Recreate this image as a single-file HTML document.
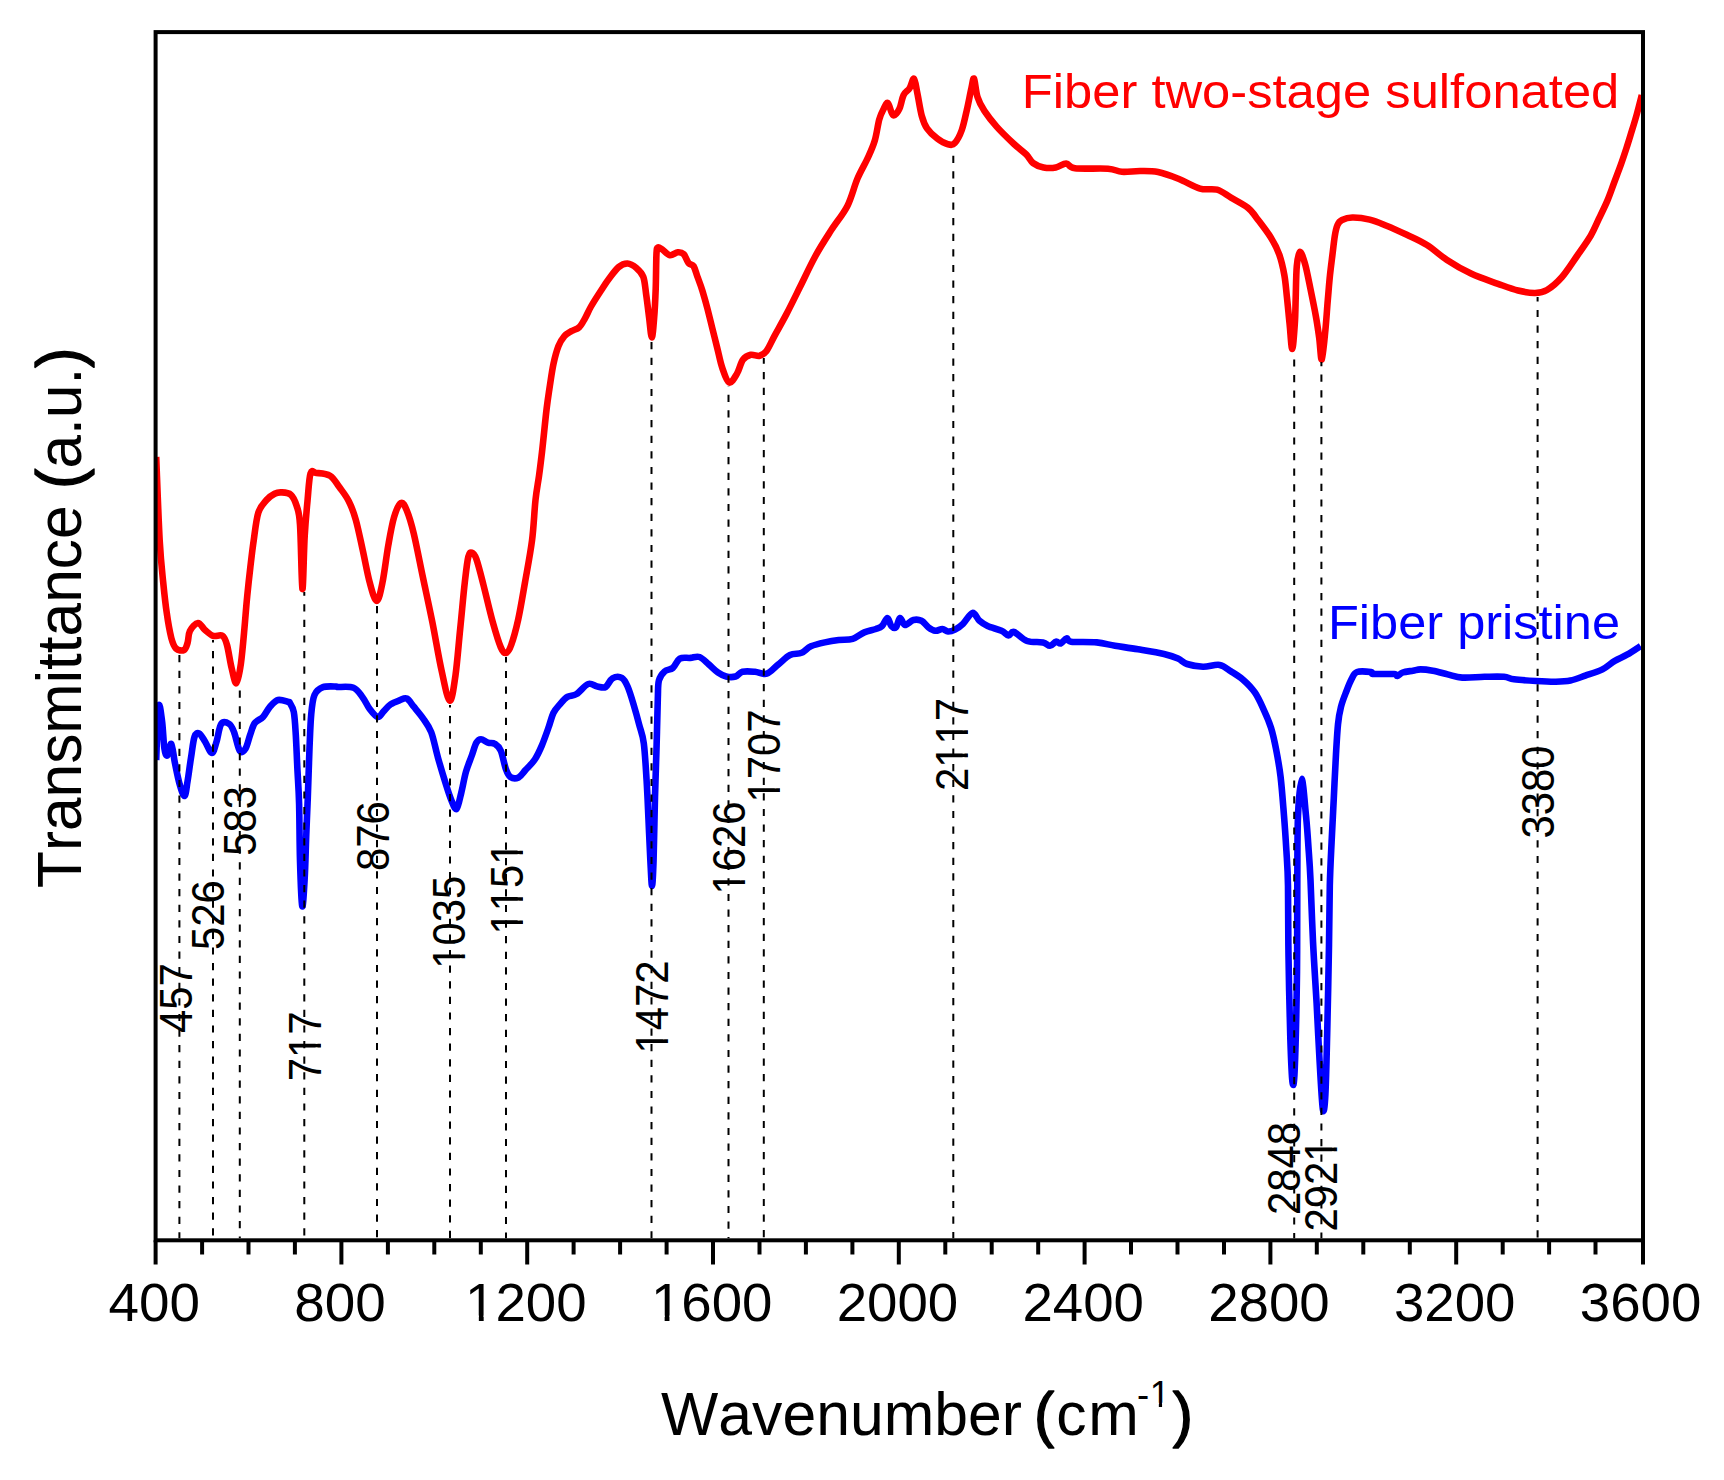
<!DOCTYPE html>
<html lang="en"><head><meta charset="utf-8"><title>FTIR spectra</title>
<style>html,body{margin:0;padding:0;background:#fff;}body{width:1724px;height:1480px;overflow:hidden;}svg{display:block;}text{font-family:"Liberation Sans",Arial,Helvetica,sans-serif;font-kerning:none;}</style></head><body>
<svg width="1724" height="1480" viewBox="0 0 1724 1480">
<rect x="0" y="0" width="1724" height="1480" fill="#ffffff"/>
<defs><clipPath id="plot"><rect x="155.1" y="32.1" width="1487.9" height="1208.2"/></clipPath><clipPath id="c2"><rect x="-10.80" y="-59.40" width="143.10" height="53.73"/><rect x="13.74" y="-6.17" width="4.83" height="7.25"/><rect x="29.84" y="-6.17" width="31.46" height="22.37"/><rect x="60.21" y="-6.17" width="31.46" height="22.37"/><rect x="90.59" y="-6.17" width="31.46" height="22.37"/></clipPath><clipPath id="c3"><rect x="-10.80" y="-59.40" width="143.10" height="53.73"/><rect x="13.74" y="-6.17" width="4.83" height="7.25"/><rect x="29.84" y="-6.17" width="31.46" height="22.37"/><rect x="60.21" y="-6.17" width="31.46" height="22.37"/><rect x="90.59" y="-6.17" width="31.46" height="22.37"/></clipPath><clipPath id="cx"><rect x="-20" y="-80" width="515.09" height="120"/><rect x="515.67" y="-80" width="200" height="120"/><rect x="494.59" y="-80" width="21.58" height="47.62"/><rect x="504.40" y="-32.88" width="3.27" height="5.12"/></clipPath><clipPath id="c5"><rect x="-8.36" y="-45.98" width="86.46" height="41.59"/><rect x="-0.42" y="-4.89" width="24.08" height="17.43"/><rect x="33.76" y="-4.89" width="3.70" height="5.72"/><rect x="46.08" y="-4.89" width="24.08" height="17.43"/></clipPath><clipPath id="c6"><rect x="-8.36" y="-45.98" width="109.71" height="41.59"/><rect x="10.51" y="-4.89" width="3.70" height="5.72"/><rect x="22.83" y="-4.89" width="24.08" height="17.43"/><rect x="46.08" y="-4.89" width="24.08" height="17.43"/><rect x="69.32" y="-4.89" width="24.08" height="17.43"/></clipPath><clipPath id="c7"><rect x="-8.36" y="-45.98" width="109.71" height="41.59"/><rect x="10.51" y="-4.89" width="3.70" height="5.72"/><rect x="33.76" y="-4.89" width="3.70" height="5.72"/><rect x="46.08" y="-4.89" width="24.08" height="17.43"/><rect x="80.25" y="-4.89" width="3.70" height="5.72"/></clipPath><clipPath id="c8"><rect x="-8.36" y="-45.98" width="109.71" height="41.59"/><rect x="10.51" y="-4.89" width="3.70" height="5.72"/><rect x="22.83" y="-4.89" width="24.08" height="17.43"/><rect x="46.08" y="-4.89" width="24.08" height="17.43"/><rect x="69.32" y="-4.89" width="24.08" height="17.43"/></clipPath><clipPath id="c9"><rect x="-8.36" y="-45.98" width="109.71" height="41.59"/><rect x="10.51" y="-4.89" width="3.70" height="5.72"/><rect x="22.83" y="-4.89" width="24.08" height="17.43"/><rect x="46.08" y="-4.89" width="24.08" height="17.43"/><rect x="69.32" y="-4.89" width="24.08" height="17.43"/></clipPath><clipPath id="c10"><rect x="-8.36" y="-45.98" width="109.71" height="41.59"/><rect x="10.51" y="-4.89" width="3.70" height="5.72"/><rect x="22.83" y="-4.89" width="24.08" height="17.43"/><rect x="46.08" y="-4.89" width="24.08" height="17.43"/><rect x="69.32" y="-4.89" width="24.08" height="17.43"/></clipPath><clipPath id="c11"><rect x="-8.36" y="-45.98" width="109.71" height="41.59"/><rect x="-0.42" y="-4.89" width="24.08" height="17.43"/><rect x="33.76" y="-4.89" width="3.70" height="5.72"/><rect x="57.01" y="-4.89" width="3.70" height="5.72"/><rect x="69.32" y="-4.89" width="24.08" height="17.43"/></clipPath><clipPath id="c12"><rect x="-8.36" y="-45.98" width="109.71" height="41.59"/><rect x="-0.42" y="-4.89" width="24.08" height="17.43"/><rect x="22.83" y="-4.89" width="24.08" height="17.43"/><rect x="46.08" y="-4.89" width="24.08" height="17.43"/><rect x="80.25" y="-4.89" width="3.70" height="5.72"/></clipPath></defs>
<g clip-path="url(#plot)">
<path d="M156.2 457.0C156.8 470.9 158.5 519.7 159.7 540.6C160.9 561.5 162.0 570.4 163.2 582.4C164.4 594.4 165.3 603.3 166.7 612.6C168.0 621.9 169.8 632.0 171.3 638.0C172.9 644.0 173.9 646.5 176.0 648.5C178.1 650.5 182.1 651.0 184.0 650.0C185.9 649.0 186.6 645.9 187.6 642.7C188.6 639.5 188.2 634.3 189.9 631.0C191.6 627.7 195.5 623.2 198.0 623.0C200.5 622.8 202.5 627.9 205.0 630.0C207.5 632.1 210.1 634.8 213.0 635.8C215.9 636.8 220.1 634.3 222.4 635.8C224.7 637.3 225.5 639.6 227.0 645.0C228.5 650.4 230.0 661.6 231.6 668.0C233.2 674.4 234.8 684.0 236.3 683.3C237.9 682.6 239.6 672.7 240.9 663.6C242.2 654.5 243.4 640.0 244.4 628.8C245.4 617.6 246.2 606.3 247.2 596.3C248.2 586.2 249.1 577.8 250.2 568.5C251.3 559.2 252.3 549.9 253.7 540.6C255.0 531.3 256.2 519.6 258.3 512.8C260.4 506.0 263.8 503.2 266.5 500.0C269.2 496.8 272.1 495.1 274.6 493.8C277.1 492.5 278.8 492.2 281.5 492.4C284.2 492.5 288.3 492.5 290.8 494.7C293.3 496.9 295.1 500.9 296.6 505.8C298.1 510.8 299.0 510.5 300.0 524.4C301.0 538.3 301.6 587.1 302.4 589.0C303.2 590.9 303.8 550.7 304.7 536.0C305.6 521.3 306.5 511.4 307.5 501.0C308.5 490.6 309.0 478.1 310.5 473.4C312.0 468.7 313.1 472.5 316.3 472.9C319.6 473.3 326.1 473.3 330.0 475.7C333.9 478.1 336.4 483.1 339.5 487.3C342.6 491.6 346.1 495.8 348.8 501.2C351.5 506.6 353.5 511.7 355.8 519.8C358.1 527.9 360.4 539.6 362.7 550.0C365.0 560.4 367.4 573.9 369.7 582.4C372.0 590.9 374.6 601.0 376.7 601.0C378.8 601.0 380.6 591.7 382.5 582.4C384.4 573.1 386.4 556.1 388.3 545.3C390.2 534.5 391.9 524.4 394.0 517.4C396.1 510.3 398.9 504.1 401.0 503.0C403.1 501.9 404.7 505.4 406.8 510.5C408.9 515.6 411.1 522.5 413.8 533.7C416.5 544.9 419.9 563.1 423.0 577.8C426.1 592.5 429.2 606.4 432.3 621.9C435.4 637.4 438.7 657.5 441.6 670.6C444.5 683.7 447.4 699.9 449.7 700.7C452.0 701.5 453.8 687.2 455.5 675.2C457.2 663.2 458.6 644.3 460.2 628.8C461.8 613.3 463.4 594.4 464.8 582.4C466.2 570.4 467.1 561.8 468.3 556.9C469.5 552.0 470.5 552.3 471.8 552.7C473.1 553.1 474.5 553.9 476.4 559.2C478.3 564.5 480.7 574.2 483.4 584.7C486.1 595.2 489.8 611.5 492.7 621.9C495.6 632.3 498.6 642.2 500.8 647.4C503.0 652.6 504.3 653.4 506.0 653.0C507.7 652.6 509.2 650.6 511.2 645.0C513.2 639.4 515.9 629.9 518.2 619.5C520.5 609.1 522.7 595.5 525.0 582.4C527.3 569.2 530.2 554.3 532.0 540.6C533.8 526.9 534.3 510.8 535.5 500.0C536.7 489.2 537.9 484.0 539.0 476.0C540.1 468.0 540.7 463.2 542.0 452.0C543.3 440.8 545.3 419.8 546.6 409.0C547.9 398.2 548.5 394.9 549.6 387.4C550.8 379.8 552.0 370.6 553.5 363.7C555.0 356.8 556.7 350.6 558.5 346.0C560.3 341.4 562.3 338.6 564.4 336.1C566.5 333.6 568.8 332.7 571.3 331.2C573.8 329.7 576.9 329.3 579.2 327.2C581.5 325.1 583.0 321.8 585.0 318.3C587.0 314.9 588.4 311.1 591.0 306.5C593.6 301.9 597.9 295.3 600.9 290.7C603.9 286.1 605.8 282.8 608.8 278.9C611.8 275.0 615.5 269.7 618.6 267.1C621.7 264.5 624.5 263.4 627.5 263.5C630.5 263.6 633.8 265.8 636.4 268.0C639.0 270.2 641.7 272.4 643.3 276.9C644.9 281.3 645.2 287.8 646.2 294.7C647.2 301.6 648.3 311.2 649.2 318.3C650.1 325.4 651.0 337.5 651.8 337.5C652.6 337.5 653.5 326.4 654.1 318.3C654.8 310.2 655.3 299.6 655.7 288.8C656.1 278.0 656.1 260.2 656.5 253.3C656.9 246.4 657.1 248.1 658.0 247.4C658.9 246.7 660.0 248.0 662.0 249.3C664.0 250.6 667.3 254.7 669.9 255.2C672.5 255.7 675.5 252.5 677.8 252.3C680.1 252.1 681.9 252.4 683.7 254.2C685.5 256.0 687.0 261.1 688.6 263.1C690.2 265.1 692.1 263.8 693.6 266.1C695.1 268.4 696.0 272.8 697.5 276.9C699.0 281.0 700.8 285.4 702.4 290.7C704.0 296.0 705.8 302.2 707.4 308.5C709.0 314.8 710.7 321.6 712.3 328.2C713.9 334.8 715.6 341.3 717.2 347.9C718.9 354.5 720.2 361.9 722.2 367.7C724.2 373.5 726.6 381.5 729.1 382.5C731.6 383.5 734.7 377.4 737.0 373.6C739.3 369.8 740.6 362.9 742.9 359.8C745.2 356.7 748.0 355.5 750.8 354.8C753.6 354.1 757.0 356.5 759.6 355.8C762.2 355.1 764.0 354.2 766.5 350.9C769.0 347.6 771.1 342.2 774.4 336.1C777.7 330.0 782.0 322.6 786.3 314.4C790.6 306.2 795.2 296.7 800.1 286.8C805.0 276.9 810.6 264.7 815.9 255.2C821.1 245.7 826.4 237.8 831.6 229.6C836.9 221.4 843.1 214.4 847.4 205.9C851.7 197.4 854.0 186.8 857.4 178.8C860.8 170.8 864.9 164.3 867.8 157.9C870.7 151.5 872.9 146.9 874.8 140.5C876.7 134.1 877.8 124.8 879.2 119.6C880.7 114.4 882.0 112.0 883.5 109.2C885.0 106.4 886.3 102.0 887.9 103.0C889.5 104.0 891.1 114.2 893.0 115.2C894.9 116.2 897.5 112.5 899.2 109.2C901.0 105.9 901.8 98.7 903.5 95.2C905.2 91.7 907.9 91.0 909.6 88.3C911.4 85.5 912.7 77.8 914.0 78.7C915.3 79.6 916.1 87.3 917.4 93.5C918.7 99.7 920.2 110.2 921.8 116.0C923.4 121.8 924.4 124.5 927.0 128.3C929.6 132.1 933.9 136.0 937.4 138.7C940.9 141.4 945.0 143.6 947.9 144.3C950.8 145.0 952.5 145.4 954.8 143.0C957.1 140.6 959.8 135.6 961.8 130.0C963.8 124.4 965.4 116.2 967.0 109.2C968.6 102.2 970.2 93.4 971.4 88.3C972.6 83.2 973.0 77.2 974.0 78.7C975.0 80.2 975.8 91.6 977.5 97.0C979.2 102.4 981.2 106.0 984.4 110.9C987.6 115.8 991.7 121.1 996.6 126.6C1001.5 132.1 1009.1 139.4 1014.0 144.0C1018.9 148.6 1023.0 151.2 1026.2 154.4C1029.4 157.6 1030.1 160.8 1033.0 163.0C1035.9 165.2 1039.8 166.8 1043.6 167.5C1047.4 168.2 1052.0 168.2 1055.8 167.5C1059.6 166.8 1063.0 163.4 1066.2 163.5C1069.4 163.6 1067.9 167.4 1074.9 168.3C1081.9 169.2 1100.2 168.1 1108.0 168.7C1115.8 169.3 1116.6 171.4 1121.9 171.8C1127.2 172.2 1134.0 171.0 1140.0 171.0C1146.0 171.0 1151.5 170.7 1158.0 172.0C1164.5 173.3 1172.0 176.2 1179.0 179.0C1186.0 181.8 1193.7 186.8 1200.0 188.6C1206.3 190.4 1211.8 188.2 1217.0 189.7C1222.2 191.2 1225.8 194.6 1231.0 197.6C1236.2 200.6 1243.7 204.4 1248.0 207.8C1252.3 211.2 1252.8 213.0 1256.6 217.9C1260.3 222.8 1266.7 230.9 1270.5 237.0C1274.3 243.1 1276.9 248.0 1279.2 254.4C1281.5 260.8 1283.1 268.1 1284.4 275.3C1285.7 282.6 1286.1 289.8 1287.0 297.9C1287.9 306.0 1288.7 315.5 1289.6 324.0C1290.5 332.5 1291.3 349.0 1292.2 349.0C1293.1 349.0 1294.2 332.5 1294.8 324.0C1295.4 315.5 1295.4 307.6 1295.7 297.9C1296.0 288.2 1296.1 273.7 1296.8 266.0C1297.5 258.3 1298.6 252.0 1300.0 251.8C1301.4 251.6 1303.5 258.6 1305.3 264.8C1307.0 271.0 1308.8 280.8 1310.5 289.2C1312.2 297.6 1314.2 307.2 1315.7 315.3C1317.2 323.4 1318.2 330.5 1319.2 337.9C1320.2 345.3 1320.8 360.8 1321.8 359.5C1322.8 358.2 1324.4 339.9 1325.4 330.0C1326.4 320.1 1327.0 309.2 1327.8 300.0C1328.6 290.8 1329.2 282.5 1330.0 275.0C1330.8 267.5 1331.6 261.5 1332.4 255.0C1333.2 248.5 1334.0 241.0 1334.8 236.0C1335.6 231.0 1336.3 227.7 1337.5 225.0C1338.7 222.3 1339.5 221.2 1342.0 220.0C1344.5 218.8 1347.7 217.6 1352.3 217.5C1356.9 217.4 1364.0 218.2 1369.7 219.6C1375.4 221.0 1380.3 223.2 1386.5 225.7C1392.7 228.2 1400.0 231.6 1406.8 234.8C1413.5 238.0 1420.3 240.8 1427.0 245.0C1433.7 249.2 1439.7 255.2 1447.0 260.0C1454.3 264.8 1462.5 269.6 1471.0 273.6C1479.5 277.6 1490.2 281.0 1498.0 283.8C1505.8 286.6 1511.8 289.0 1518.0 290.5C1524.2 292.0 1530.2 293.1 1535.0 293.0C1539.8 292.9 1542.5 292.7 1547.0 290.0C1551.5 287.3 1557.0 282.7 1562.0 277.0C1567.0 271.3 1572.2 262.9 1577.0 256.0C1581.8 249.1 1587.0 241.9 1590.7 235.7C1594.4 229.4 1596.2 224.3 1599.0 218.5C1601.8 212.7 1604.9 206.5 1607.4 200.6C1609.9 194.7 1611.8 188.9 1614.0 183.0C1616.2 177.1 1618.5 171.2 1620.6 165.4C1622.7 159.6 1624.6 153.8 1626.5 148.0C1628.4 142.2 1630.2 136.1 1632.0 130.3C1633.8 124.6 1635.4 119.4 1637.0 113.5C1638.6 107.6 1641.0 98.1 1641.8 95.0" fill="none" stroke="#ff0000" stroke-width="6.6" stroke-linejoin="round" stroke-linecap="butt"/>
<path d="M156.2 760.0C156.6 751.1 157.6 713.3 158.6 706.7C159.6 700.1 161.0 713.6 162.0 720.6C163.0 727.6 163.5 742.7 164.4 748.5C165.3 754.3 166.2 756.3 167.4 755.5C168.6 754.7 170.1 742.8 171.3 743.9C172.5 745.0 173.5 755.8 174.8 762.4C176.2 769.0 177.8 777.7 179.4 783.3C181.0 788.9 183.1 796.4 184.5 796.0C185.9 795.6 186.5 787.4 187.6 781.0C188.7 774.6 189.8 765.1 191.0 757.8C192.2 750.4 193.1 741.0 194.5 736.9C195.9 732.8 197.4 732.6 199.2 733.4C200.9 734.2 202.9 738.2 205.0 741.5C207.1 744.8 210.0 753.0 211.9 753.0C213.8 753.0 215.1 746.3 216.6 741.5C218.1 736.7 219.1 726.9 221.2 724.0C223.3 721.1 227.2 722.7 229.3 724.0C231.4 725.3 232.2 727.5 234.0 732.0C235.8 736.5 237.9 748.0 239.8 750.8C241.7 753.5 243.9 751.2 245.6 748.5C247.3 745.8 248.7 738.9 250.2 734.6C251.7 730.4 252.7 725.9 254.8 723.0C256.9 720.1 260.5 719.7 263.0 717.0C265.5 714.3 267.5 709.5 270.0 706.7C272.5 703.9 274.9 700.8 278.0 700.0C281.1 699.2 286.5 701.5 288.5 702.0C289.9 702.5 289.0 701.3 289.9 703.0C290.8 704.7 292.8 706.7 293.8 712.0C294.8 717.3 295.2 725.2 295.8 735.0C296.4 744.8 296.9 759.5 297.5 771.0C298.1 782.5 298.7 789.1 299.1 804.0C299.5 818.9 299.5 843.5 300.0 860.5C300.5 877.5 301.4 902.8 302.2 906.0C303.0 909.2 303.9 891.5 304.6 880.0C305.3 868.5 305.7 850.7 306.2 837.0C306.7 823.3 307.2 812.4 307.8 797.6C308.4 782.8 308.9 761.8 309.5 748.0C310.1 734.2 310.4 723.6 311.2 714.8C312.0 706.0 312.5 699.6 314.5 695.0C316.5 690.4 319.4 688.6 323.0 687.2C326.6 685.8 333.8 686.5 336.2 686.5C337.2 686.5 336.2 686.8 337.2 687.0C340.1 687.2 349.2 686.0 353.5 687.7C357.8 689.4 360.0 693.9 362.7 697.4C365.4 700.9 367.2 705.7 369.7 709.0C372.2 712.3 375.5 716.6 377.8 717.0C380.1 717.4 381.5 713.5 383.6 711.4C385.7 709.3 387.9 706.3 390.6 704.4C393.3 702.5 397.2 701.2 399.9 700.2C402.6 699.2 404.5 697.5 406.8 698.6C409.1 699.7 411.1 703.4 413.8 706.7C416.5 710.0 420.1 714.0 423.0 718.3C425.9 722.5 428.7 725.6 431.2 732.2C433.7 738.8 435.5 748.9 438.0 757.8C440.5 766.7 444.0 778.2 446.3 785.6C448.6 793.0 450.3 798.0 452.0 801.9C453.7 805.8 455.1 810.3 456.7 808.8C458.2 807.2 459.8 798.8 461.3 792.6C462.9 786.4 464.2 777.9 466.0 771.7C467.8 765.5 470.1 760.3 471.8 755.5C473.5 750.7 474.9 745.4 476.4 742.7C477.9 740.0 479.1 739.2 481.0 739.2C482.9 739.2 485.7 741.9 488.0 742.7C490.3 743.5 492.9 742.5 495.0 743.9C497.1 745.2 499.0 746.6 500.8 750.8C502.6 754.9 504.2 764.4 505.8 768.8C507.4 773.2 508.3 775.6 510.4 777.0C512.5 778.4 516.1 778.6 518.6 777.4C521.1 776.2 522.8 773.0 525.5 770.0C528.2 767.0 532.1 763.6 534.8 759.5C537.5 755.4 539.5 751.0 541.8 745.6C544.1 740.2 546.8 732.4 548.7 727.0C550.6 721.6 551.5 716.9 553.4 713.0C555.3 709.1 558.0 706.6 560.3 703.9C562.6 701.2 564.6 698.5 567.3 696.9C570.0 695.2 573.1 696.1 576.6 694.0C580.1 691.9 584.7 685.2 588.2 684.0C591.7 682.8 594.5 686.0 597.4 686.5C600.3 687.0 603.1 688.4 605.6 687.0C608.1 685.6 609.8 679.8 612.5 678.3C615.2 676.8 619.3 676.5 621.8 677.9C624.3 679.3 625.7 682.2 627.6 686.5C629.5 690.8 631.5 697.5 633.4 703.9C635.3 710.3 637.5 718.1 639.2 724.7C640.9 731.3 642.6 734.0 643.8 743.3C645.0 752.6 645.8 767.6 646.6 780.4C647.4 793.2 647.9 806.8 648.5 819.9C649.1 833.0 649.7 848.3 650.3 859.3C650.9 870.3 651.5 886.0 652.0 886.0C652.5 886.0 653.1 874.2 653.6 859.3C654.1 844.4 654.5 815.7 655.0 796.7C655.5 777.8 656.1 761.9 656.6 745.6C657.1 729.4 657.4 710.0 657.8 699.2C658.2 688.4 657.8 685.2 658.9 680.6C660.0 676.0 662.4 673.5 664.7 671.4C667.0 669.3 670.4 670.0 672.9 667.9C675.4 665.8 676.9 660.3 679.8 658.6C682.7 656.9 687.0 658.2 690.3 657.9C693.6 657.6 696.4 655.9 699.5 657.0C702.6 658.1 705.7 661.8 708.8 664.4C711.9 667.0 715.1 670.5 718.0 672.5C720.9 674.5 723.3 675.8 726.2 676.5C729.1 677.2 732.8 677.3 735.5 676.5C738.2 675.7 739.2 672.6 742.5 671.8C745.8 671.0 751.0 671.5 755.0 671.8C759.0 672.1 762.9 674.9 766.8 673.7C770.7 672.5 774.5 667.5 778.4 664.4C782.3 661.3 786.1 656.9 790.0 655.0C793.9 653.1 798.1 654.2 801.6 652.8C805.1 651.3 807.0 648.0 810.9 646.3C814.8 644.6 820.2 643.4 824.8 642.4C829.4 641.4 834.1 640.6 838.7 640.0C843.4 639.4 848.4 640.2 852.7 638.9C857.0 637.6 860.4 634.0 864.3 632.4C868.2 630.8 872.9 630.1 875.9 629.0C878.9 627.9 880.1 627.8 882.0 626.0C883.9 624.2 885.9 618.0 887.4 618.0C888.9 618.0 889.9 624.5 891.3 626.0C892.7 627.5 894.5 628.6 896.0 627.3C897.5 626.0 898.5 618.4 900.0 618.0C901.5 617.6 902.8 624.7 905.0 625.0C907.2 625.3 910.6 620.7 913.4 620.0C916.1 619.3 919.0 619.6 921.5 620.8C924.0 622.0 926.1 625.6 928.4 627.3C930.7 629.0 933.1 630.5 935.4 630.8C937.7 631.1 940.3 628.9 942.4 629.0C944.5 629.1 945.9 631.4 948.0 631.5C950.1 631.6 952.5 630.9 955.0 629.6C957.5 628.3 960.1 626.6 963.0 623.8C965.9 621.0 969.8 613.4 972.5 612.9C975.2 612.4 977.0 618.6 979.5 620.8C982.0 623.0 983.9 624.3 987.6 626.0C991.3 627.7 998.0 629.2 1001.5 630.8C1005.0 632.4 1006.4 635.2 1008.5 635.4C1010.6 635.6 1010.9 631.1 1014.0 632.0C1017.1 632.9 1022.2 639.3 1027.0 641.0C1031.8 642.7 1039.2 641.6 1043.0 642.4C1046.8 643.2 1047.8 645.9 1050.0 645.8C1052.2 645.7 1054.2 642.1 1056.0 641.7C1057.8 641.3 1059.0 644.0 1060.7 643.5C1062.5 643.0 1064.8 638.7 1066.5 638.4C1068.2 638.1 1066.5 641.0 1071.0 641.7C1076.0 642.4 1089.4 641.7 1096.7 642.4C1104.0 643.1 1108.1 644.6 1115.0 645.8C1121.9 646.9 1129.8 647.9 1138.0 649.3C1146.2 650.7 1157.3 652.5 1164.0 654.0C1170.7 655.5 1174.2 656.9 1178.0 658.6C1181.8 660.3 1182.8 662.6 1187.0 664.0C1191.2 665.4 1197.6 666.6 1203.0 666.7C1208.4 666.9 1214.9 664.1 1219.6 664.9C1224.3 665.7 1227.1 669.0 1231.0 671.4C1234.9 673.8 1238.8 676.0 1242.8 679.5C1246.8 683.0 1251.5 687.6 1255.0 692.7C1258.5 697.8 1261.3 704.4 1264.0 710.3C1266.7 716.1 1269.0 721.4 1271.0 727.8C1273.0 734.2 1274.4 740.7 1276.0 748.9C1277.6 757.1 1279.3 765.9 1280.6 777.0C1281.9 788.1 1283.0 803.4 1284.0 815.7C1285.0 828.0 1285.7 839.1 1286.4 850.8C1287.1 862.5 1287.7 868.5 1288.0 886.0C1288.3 903.5 1288.1 930.2 1288.5 955.5C1288.9 980.8 1289.6 1017.0 1290.3 1038.0C1291.0 1059.0 1291.7 1076.2 1292.4 1081.5C1293.1 1086.8 1293.9 1088.0 1294.7 1069.7C1295.5 1051.4 1296.6 1003.0 1297.0 971.4C1297.3 939.8 1297.1 906.0 1297.3 880.0C1297.5 854.0 1297.3 832.6 1298.0 815.7C1298.7 798.8 1300.4 778.8 1301.7 778.8C1303.0 778.8 1304.8 803.7 1306.0 815.7C1307.2 827.7 1308.0 840.1 1308.7 850.8C1309.5 861.5 1309.8 864.9 1310.5 880.0C1311.2 895.1 1312.0 921.0 1313.0 941.5C1314.0 962.0 1315.5 984.0 1316.6 1003.0C1317.6 1022.0 1318.3 1038.0 1319.3 1055.7C1320.3 1073.4 1321.8 1102.6 1322.8 1109.0C1323.8 1115.4 1324.7 1107.0 1325.4 1094.3C1326.1 1081.6 1326.6 1057.7 1327.2 1032.8C1327.8 1007.9 1328.6 969.5 1329.0 945.0C1329.4 920.5 1329.4 903.2 1329.8 886.0C1330.2 868.8 1330.9 856.7 1331.6 842.0C1332.3 827.3 1333.1 812.7 1333.8 798.0C1334.5 783.3 1335.3 766.3 1336.0 754.0C1336.7 741.7 1337.2 732.2 1338.0 724.3C1338.8 716.4 1339.6 712.3 1341.0 706.8C1342.4 701.2 1344.7 695.7 1346.5 691.0C1348.3 686.3 1350.0 681.9 1351.8 678.7C1353.5 675.5 1353.8 673.1 1357.0 672.0C1360.2 670.9 1368.4 671.7 1371.0 672.0C1372.8 672.3 1371.0 673.7 1372.8 674.0C1376.6 674.3 1389.9 673.7 1394.0 674.0C1397.4 674.3 1396.0 676.2 1397.4 676.0C1398.9 675.8 1400.1 673.4 1402.7 672.5C1405.3 671.6 1410.0 671.2 1413.0 670.7C1416.0 670.2 1417.2 669.4 1420.5 669.4C1423.8 669.4 1428.3 669.9 1432.8 670.7C1437.3 671.5 1442.7 673.2 1447.6 674.4C1452.5 675.5 1456.1 677.2 1462.3 677.6C1468.5 678.0 1477.5 676.9 1484.5 676.8C1491.5 676.7 1499.1 676.4 1504.0 676.8C1508.9 677.2 1508.7 678.6 1514.0 679.3C1519.3 680.0 1529.0 680.6 1536.0 681.0C1543.0 681.4 1550.0 681.8 1555.8 681.7C1561.5 681.6 1565.6 681.5 1570.5 680.5C1575.4 679.5 1580.0 677.5 1585.3 675.6C1590.6 673.8 1597.6 671.9 1602.5 669.4C1607.4 666.9 1610.7 663.2 1614.8 660.8C1618.9 658.3 1622.7 657.2 1627.0 654.7C1631.3 652.2 1638.3 647.5 1640.6 646.0" fill="none" stroke="#0000ff" stroke-width="6.6" stroke-linejoin="round" stroke-linecap="butt"/>
</g>
<g stroke="#000" stroke-width="2" stroke-dasharray="7.2 8.4" fill="none">
<line x1="179.4" y1="1238.3" x2="179.4" y2="652.0" stroke-dashoffset="1.2"/>
<line x1="213.0" y1="1238.3" x2="213.0" y2="640.0" stroke-dashoffset="12.7"/>
<line x1="239.8" y1="1238.3" x2="239.8" y2="688.0" stroke-dashoffset="5.5"/>
<line x1="304.3" y1="1238.3" x2="304.3" y2="592.0" stroke-dashoffset="12.7"/>
<line x1="377.0" y1="1238.3" x2="377.0" y2="605.0" stroke-dashoffset="14.6"/>
<line x1="450.0" y1="1238.3" x2="450.0" y2="705.0" stroke-dashoffset="15.3"/>
<line x1="506.0" y1="1238.3" x2="506.0" y2="657.0" stroke-dashoffset="1.4"/>
<line x1="651.5" y1="1238.3" x2="651.5" y2="342.0" stroke-dashoffset="0.2"/>
<line x1="728.5" y1="1238.3" x2="728.5" y2="386.0" stroke-dashoffset="6.0"/>
<line x1="763.8" y1="1238.3" x2="763.8" y2="358.0" stroke-dashoffset="14.6"/>
<line x1="953.3" y1="1238.3" x2="953.3" y2="148.0" stroke-dashoffset="1.0"/>
<line x1="1294.2" y1="1238.3" x2="1294.2" y2="352.0" stroke-dashoffset="1.9"/>
<line x1="1321.4" y1="1238.3" x2="1321.4" y2="362.0" stroke-dashoffset="1.5"/>
<line x1="1537.6" y1="1238.3" x2="1537.6" y2="297.0" stroke-dashoffset="14.8"/>
</g>
<rect x="155.6" y="32.1" width="1487.4" height="1208.2" fill="none" stroke="#000" stroke-width="4"/>
<g stroke="#000" stroke-width="4" fill="none">
<line x1="155.6" y1="1240.3" x2="155.6" y2="1264.5"/>
<line x1="202.1" y1="1240.3" x2="202.1" y2="1254.5"/>
<line x1="248.5" y1="1240.3" x2="248.5" y2="1254.5"/>
<line x1="294.9" y1="1240.3" x2="294.9" y2="1254.5"/>
<line x1="341.4" y1="1240.3" x2="341.4" y2="1264.5"/>
<line x1="387.9" y1="1240.3" x2="387.9" y2="1254.5"/>
<line x1="434.3" y1="1240.3" x2="434.3" y2="1254.5"/>
<line x1="480.8" y1="1240.3" x2="480.8" y2="1254.5"/>
<line x1="527.2" y1="1240.3" x2="527.2" y2="1264.5"/>
<line x1="573.6" y1="1240.3" x2="573.6" y2="1254.5"/>
<line x1="620.1" y1="1240.3" x2="620.1" y2="1254.5"/>
<line x1="666.6" y1="1240.3" x2="666.6" y2="1254.5"/>
<line x1="713.0" y1="1240.3" x2="713.0" y2="1264.5"/>
<line x1="759.5" y1="1240.3" x2="759.5" y2="1254.5"/>
<line x1="805.9" y1="1240.3" x2="805.9" y2="1254.5"/>
<line x1="852.4" y1="1240.3" x2="852.4" y2="1254.5"/>
<line x1="898.8" y1="1240.3" x2="898.8" y2="1264.5"/>
<line x1="945.3" y1="1240.3" x2="945.3" y2="1254.5"/>
<line x1="991.7" y1="1240.3" x2="991.7" y2="1254.5"/>
<line x1="1038.2" y1="1240.3" x2="1038.2" y2="1254.5"/>
<line x1="1084.6" y1="1240.3" x2="1084.6" y2="1264.5"/>
<line x1="1131.0" y1="1240.3" x2="1131.0" y2="1254.5"/>
<line x1="1177.5" y1="1240.3" x2="1177.5" y2="1254.5"/>
<line x1="1224.0" y1="1240.3" x2="1224.0" y2="1254.5"/>
<line x1="1270.4" y1="1240.3" x2="1270.4" y2="1264.5"/>
<line x1="1316.8" y1="1240.3" x2="1316.8" y2="1254.5"/>
<line x1="1363.3" y1="1240.3" x2="1363.3" y2="1254.5"/>
<line x1="1409.8" y1="1240.3" x2="1409.8" y2="1254.5"/>
<line x1="1456.2" y1="1240.3" x2="1456.2" y2="1264.5"/>
<line x1="1502.7" y1="1240.3" x2="1502.7" y2="1254.5"/>
<line x1="1549.1" y1="1240.3" x2="1549.1" y2="1254.5"/>
<line x1="1595.5" y1="1240.3" x2="1595.5" y2="1254.5"/>
<line x1="1643.0" y1="1240.3" x2="1643.0" y2="1264.5"/>
</g>
<g font-size="54.0" fill="#000">
<text transform="translate(108.4,1321.2)" textLength="91.5" lengthAdjust="spacingAndGlyphs">400</text>
<text transform="translate(294.2,1321.2)" textLength="91.5" lengthAdjust="spacingAndGlyphs">800</text>
<text transform="translate(465.1,1321.2)" textLength="121.5" lengthAdjust="spacingAndGlyphs" clip-path="url(#c2)">1200</text>
<text transform="translate(650.9,1321.2)" textLength="121.5" lengthAdjust="spacingAndGlyphs" clip-path="url(#c3)">1600</text>
<text transform="translate(836.7,1321.2)" textLength="121.5" lengthAdjust="spacingAndGlyphs">2000</text>
<text transform="translate(1022.4,1321.2)" textLength="121.5" lengthAdjust="spacingAndGlyphs">2400</text>
<text transform="translate(1208.2,1321.2)" textLength="121.5" lengthAdjust="spacingAndGlyphs">2800</text>
<text transform="translate(1394.0,1321.2)" textLength="121.5" lengthAdjust="spacingAndGlyphs">3200</text>
<text transform="translate(1579.8,1321.2)" textLength="121.5" lengthAdjust="spacingAndGlyphs">3600</text>
</g>
<text transform="translate(661,1435.2) scale(0.987,1)" font-size="61.5" fill="#000" clip-path="url(#cx)">Wavenumber <tspan x="377.81" stroke="#000" stroke-width="1.4" stroke-linejoin="round">(</tspan><tspan x="400.49">c</tspan><tspan x="432.84">m</tspan><tspan x="482.27" dy="-28.5" font-size="37.0">-</tspan><tspan x="495.09" font-size="37.0">1</tspan><tspan x="518.47" dy="28.5" stroke="#000" stroke-width="1.4" stroke-linejoin="round">)</tspan></text>
<text transform="translate(80.9,888.0) scale(1.03,1) rotate(-90)" font-size="60.4" fill="#000">Transmittance <tspan stroke="#000" stroke-width="1.4" stroke-linejoin="round">(</tspan>a.u.<tspan stroke="#000" stroke-width="1.4" stroke-linejoin="round">)</tspan></text>
<text x="1021.8" y="108.4" font-size="48.2" fill="#ff0000" textLength="597.5" lengthAdjust="spacingAndGlyphs">Fiber two-stage sulfonated</text>
<text x="1328" y="639.3" font-size="48.5" fill="#0000ff" textLength="292" lengthAdjust="spacingAndGlyphs">Fiber pristine</text>
<g font-size="41.8" fill="#000">
<text transform="translate(191.5,1033.0) scale(1.118,1) rotate(-90)">457</text>
<text transform="translate(224.0,950.0) scale(1.118,1) rotate(-90)">526</text>
<text transform="translate(256.0,855.8) scale(1.118,1) rotate(-90)">583</text>
<text transform="translate(320.5,1081.2) scale(1.118,1) rotate(-90)" clip-path="url(#c5)">717</text>
<text transform="translate(389.0,871.0) scale(1.118,1) rotate(-90)">876</text>
<text transform="translate(465.0,968.7) scale(1.118,1) rotate(-90)" clip-path="url(#c6)">1035</text>
<text transform="translate(522.5,934.6) scale(1.118,1) rotate(-90)" clip-path="url(#c7)">1151</text>
<text transform="translate(668.0,1053.4) scale(1.118,1) rotate(-90)" clip-path="url(#c8)">1472</text>
<text transform="translate(745.0,894.4) scale(1.118,1) rotate(-90)" clip-path="url(#c9)">1626</text>
<text transform="translate(779.5,802.5) scale(1.118,1) rotate(-90)" clip-path="url(#c10)">1707</text>
<text transform="translate(967.5,791.0) scale(1.118,1) rotate(-90)" clip-path="url(#c11)">2117</text>
<text transform="translate(1299.5,1214.9) scale(1.118,1) rotate(-90)">2848</text>
<text transform="translate(1337.3,1231.5) scale(1.118,1) rotate(-90)" clip-path="url(#c12)">2921</text>
<text transform="translate(1553.5,838.4) scale(1.118,1) rotate(-90)">3380</text>
</g>
</svg></body></html>
